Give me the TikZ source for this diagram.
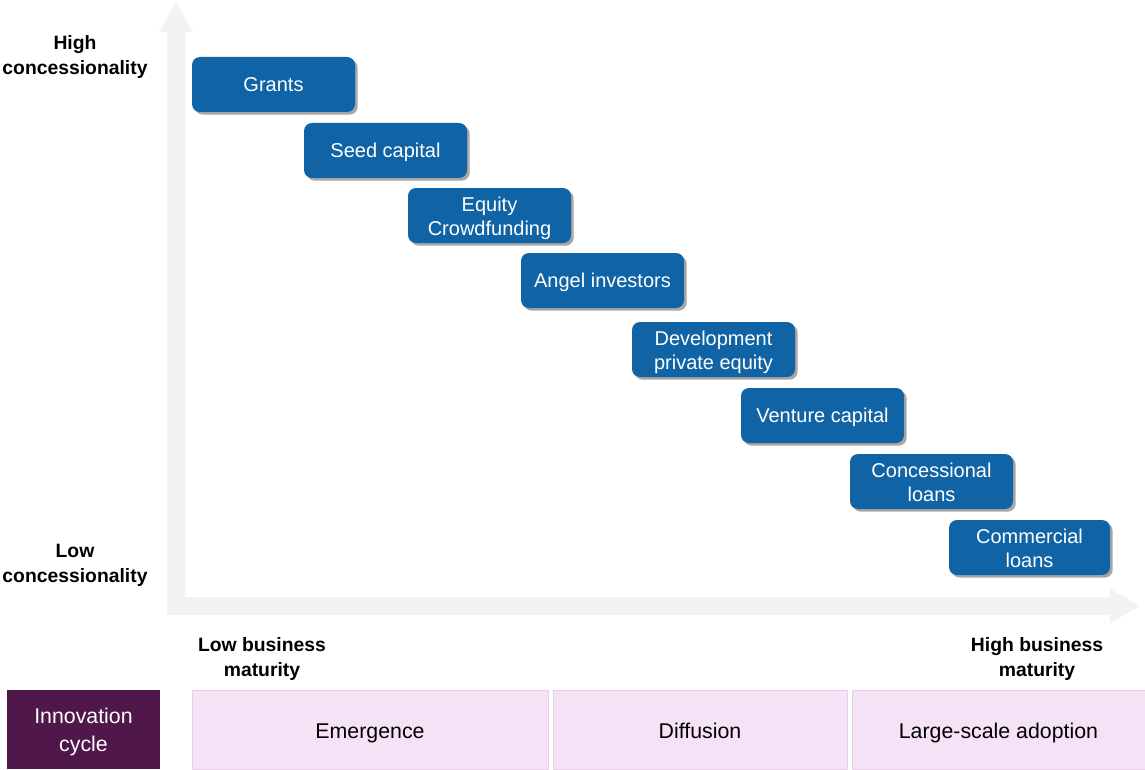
\documentclass[tikz,border=0pt]{standalone}
\usepackage{fontspec}
\setmainfont{Liberation Sans}
\usetikzlibrary{shadows}
\definecolor{boxblue}{RGB}{16,100,165}
\definecolor{axisgray}{RGB}{242,242,242}
\definecolor{pinkfill}{RGB}{246,226,246}
\definecolor{pinkline}{RGB}{232,208,232}
\definecolor{cyclepurple}{RGB}{80,23,74}
\newcommand{\twolines}[3][-2.25pt]{\raisebox{#1}[\height][\depth]{\begin{tabular}{@{}c@{}}#2\\#3\end{tabular}}}
\tikzset{
  finbox/.style={rectangle, rounded corners=6pt, fill=boxblue, text=white,
    minimum width=122.25pt, minimum height=41.25pt, inner sep=1pt,
    font=\fontsize{15}{18}\selectfont,
    drop shadow={shadow xshift=2pt, shadow yshift=-2pt, opacity=0.35, fill=black}},
  onebox/.style={finbox, text height=14.5pt, text depth=4pt},
  axislabel/.style={align=center, font=\fontsize{14.5}{18.75}\selectfont\bfseries, text=black},
  phasebox/.style={rectangle, fill=pinkfill, draw=pinkline, line width=0.5pt,
    minimum height=59.25pt, inner sep=0pt, text height=17.5pt, text depth=4pt,
    font=\fontsize{16}{19}\selectfont, text=black},
  cyclebox/.style={rectangle, fill=cyclepurple, text=white,
    minimum height=59.25pt, minimum width=114.75pt, inner sep=0pt,
    font=\fontsize{16}{21}\selectfont}
}
\begin{document}
\begin{tikzpicture}[x=0.75pt,y=-0.75pt]
\useasboundingbox (0,0) rectangle (1145,770);
% axes
\fill[axisgray] (167,615) -- (167,32) -- (159,32) -- (176,2) -- (193,32) -- (185,32)
  -- (185,597) -- (1110,597) -- (1110,589) -- (1140,606) -- (1110,623) -- (1110,615) -- cycle;
% axis labels
\node[axislabel] (highc) at (75,57) {High\\concessionality};
\node[axislabel] (lowc) at (75,565) {Low\\concessionality};
\node[axislabel] (lowm) at (262,659) {Low business\\maturity};
\node[axislabel] (highm) at (1037,659) {High business\\maturity};
% instruments
\node[onebox] (grants) at (273.5,84.5) {Grants};
\node[onebox] (seed) at (385.5,150.5) {Seed capital};
\node[finbox] (equity) at (489.5,215.5) {\twolines{Equity}{Crowdfunding}};
\node[onebox] (angel) at (602.5,280.5) {Angel investors};
\node[finbox] (dev) at (713.5,349.5) {\twolines{Development}{private equity}};
\node[onebox] (venture) at (822.5,415.5) {Venture capital};
\node[finbox] (concess) at (931.5,481.5) {\twolines{Concessional}{loans}};
\node[finbox, minimum width=120.75pt] (commercial) at (1029.5,547.5) {\twolines{Commercial}{loans}};
% innovation cycle
\node[cyclebox] (cycle) at (83.5,729.5) {\twolines[-2pt]{Innovation}{cycle}};
\node[phasebox, minimum width=267pt] (emergence) at (370,729.5) {Emergence};
\node[phasebox, minimum width=220.5pt] (diffusion) at (700,729.5) {Diffusion};
\node[phasebox, minimum width=219.75pt] (largescale) at (998.5,729.5) {Large-scale adoption};
\end{tikzpicture}
\end{document}
